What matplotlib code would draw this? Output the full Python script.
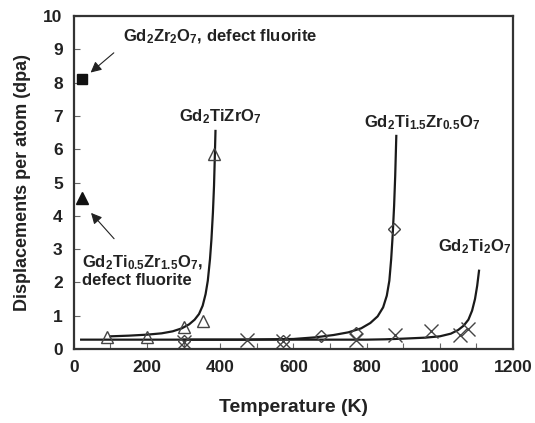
import matplotlib.pyplot as plt
import numpy as np
from matplotlib.ticker import MultipleLocator

plt.rcParams['font.family'] = ['Liberation Sans', 'DejaVu Sans']
plt.rcParams['font.weight'] = 'bold'
plt.rcParams['mathtext.fontset'] = 'custom'
plt.rcParams['mathtext.rm'] = 'Liberation Sans:bold'
plt.rcParams['mathtext.default'] = 'rm'

# measured points
tri_T = [90, 200, 300, 352, 383]
tri_d = [0.35, 0.35, 0.65, 0.85, 5.85]
dia_T = [300, 572, 674, 772, 874]
dia_d = [0.25, 0.25, 0.40, 0.48, 3.6]
crs_T = [300, 472, 572, 772, 877, 975, 1055, 1076]
crs_d = [0.22, 0.26, 0.24, 0.28, 0.41, 0.54, 0.42, 0.6]
sq_T, sq_d = [22], [8.12]
ftri_T, ftri_d = [22], [4.55]

# fitted curves
c1_T = [100, 150, 200, 240, 270, 295, 315, 330, 342, 352, 360, 366, 372, 376, 380, 383, 385, 387]
c1_d = [0.38, 0.40, 0.43, 0.47, 0.53, 0.62, 0.74, 0.88, 1.05, 1.30, 1.65, 2.05, 2.7, 3.3, 4.1, 4.9, 5.7, 6.55]
c2_T = [300, 450, 600, 660, 710, 750, 785, 810, 830, 845, 855, 862, 867, 871, 875, 878, 881]
c2_d = [0.28, 0.28, 0.30, 0.35, 0.42, 0.50, 0.62, 0.78, 0.98, 1.25, 1.6, 2.05, 2.7, 3.4, 4.3, 5.2, 6.4]
c3_T = [20, 300, 600, 800, 850, 900, 960, 1000, 1030, 1050, 1065, 1078, 1088, 1096, 1102, 1107]
c3_d = [0.28, 0.28, 0.28, 0.28, 0.29, 0.31, 0.34, 0.38, 0.46, 0.57, 0.70, 0.88, 1.15, 1.5, 1.9, 2.35]

fig = plt.figure(figsize=(5.35, 4.23), dpi=100)
ax = fig.add_axes([0.138, 0.175, 0.821, 0.787])

ink = '#1a1a1a'
ax.plot(c3_T, c3_d, '-', color=ink, lw=1.6)
ax.plot(c2_T, c2_d, '-', color=ink, lw=1.6)
ax.plot(c1_T, c1_d, '-', color=ink, lw=1.6)

ax.plot(tri_T, tri_d, '^', ms=9, mfc='none', mec='#444444', mew=1.0)
ax.plot(dia_T, dia_d, 'D', ms=6, mfc='none', mec='#444444', mew=1.0)
ax.plot(crs_T, crs_d, 'x', ms=10, color='#444444', mew=1.0)
ax.plot(sq_T, sq_d, 's', ms=7, color='#111111')
ax.plot(ftri_T, ftri_d, '^', ms=8, color='#111111')

ax.set_xlim(0, 1200)
ax.set_ylim(0, 10)
ax.xaxis.set_major_locator(MultipleLocator(200))
ax.xaxis.set_minor_locator(MultipleLocator(100))
ax.yaxis.set_major_locator(MultipleLocator(1))
ax.tick_params(which='both', direction='in', length=4, width=0.8, color='#666666',
               labelsize=12.5, labelcolor='#222222', pad=8)
for s in ax.spines.values():
    s.set_linewidth(1.6)
    s.set_color('#333333')

ax.set_xlabel('Temperature (K)', fontsize=14, fontweight='bold', color='#222222', labelpad=17)
ax.set_ylabel('Displacements per atom (dpa)', fontsize=13, fontweight='bold', color='#222222', labelpad=9)

tk = dict(fontsize=12, fontweight='bold', color='#222222')
ax.text(134, 9.37, r'Gd$_2$Zr$_2$O$_7$, defect fluorite', ha='left', va='center', **tk)
ax.annotate('', xy=(40, 8.25), xytext=(115, 8.95),
            arrowprops=dict(arrowstyle='-|>', color='#222222', lw=0.8, mutation_scale=16))
ax.text(22, 2.35, 'Gd$_2$Ti$_{0.5}$Zr$_{1.5}$O$_7$,\ndefect fluorite', ha='left', va='center',
        linespacing=1.05, **tk)
ax.annotate('', xy=(42, 4.15), xytext=(115, 3.25),
            arrowprops=dict(arrowstyle='-|>', color='#222222', lw=0.8, mutation_scale=16))
ax.text(399, 6.97, 'Gd$_2$TiZrO$_7$', ha='center', va='center', **tk)
ax.text(951, 6.8, 'Gd$_2$Ti$_{1.5}$Zr$_{0.5}$O$_7$', ha='center', va='center', **tk)
ax.text(1096, 3.06, 'Gd$_2$Ti$_2$O$_7$', ha='center', va='center', **tk)

fig.savefig('out.png', dpi=100)
